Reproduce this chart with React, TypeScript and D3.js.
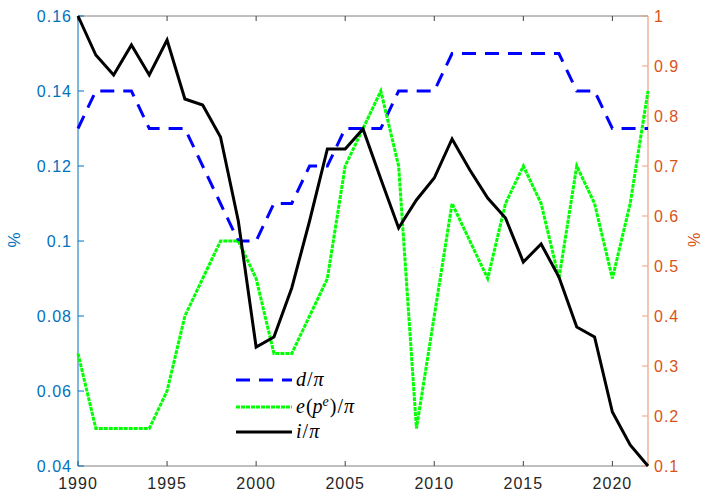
import React from "react";
import * as d3 from "d3";

const years = d3.range(1990, 2023);
const dOverPi = [0.13, 0.14, 0.14, 0.14, 0.13, 0.13, 0.13, 0.12, 0.11, 0.10, 0.10, 0.11, 0.11, 0.12, 0.12, 0.13, 0.13, 0.13, 0.14, 0.14, 0.14, 0.15, 0.15, 0.15, 0.15, 0.15, 0.15, 0.15, 0.14, 0.14, 0.13, 0.13, 0.13];
const eOverPi = [0.07, 0.05, 0.05, 0.05, 0.05, 0.06, 0.08, 0.09, 0.10, 0.10, 0.09, 0.07, 0.07, 0.08, 0.09, 0.12, 0.13, 0.14, 0.12, 0.05, 0.08, 0.11, 0.10, 0.09, 0.11, 0.12, 0.11, 0.09, 0.12, 0.11, 0.09, 0.11, 0.14];
const iOverPi = [1.0, 0.922, 0.882, 0.942, 0.882, 0.952, 0.834, 0.822, 0.758, 0.59, 0.338, 0.358, 0.456, 0.59, 0.734, 0.734, 0.774, 0.674, 0.576, 0.632, 0.676, 0.754, 0.692, 0.636, 0.596, 0.508, 0.544, 0.478, 0.378, 0.358, 0.208, 0.142, 0.1];

const xTicks = [1990, 1995, 2000, 2005, 2010, 2015, 2020];
const leftTicks = [0.04, 0.06, 0.08, 0.1, 0.12, 0.14, 0.16];
const rightTicks = [0.1, 0.2, 0.3, 0.4, 0.5, 0.6, 0.7, 0.8, 0.9, 1];

const W = 704, H = 492;
const L = 78, R = 648, T = 16, B = 466;
const BLUE_AX = "#0072BD";
const ORANGE_AX = "#D95319";
const FONT = "'Liberation Sans', Arial, sans-serif";
const MATH = "'Liberation Serif', 'Times New Roman', serif";

export default function App() {
  const x = d3.scaleLinear().domain([1990, 2022]).range([L, R]);
  const yL = d3.scaleLinear().domain([0.04, 0.16]).range([B, T]);
  const yR = d3.scaleLinear().domain([0.1, 1]).range([B, T]);

  const lineL = d3.line<number>().x((_, i) => x(years[i])).y((v) => yL(v));
  const lineR = d3.line<number>().x((_, i) => x(years[i])).y((v) => yR(v));

  const tickLen = 5;
  const fmt = (v: number) => String(+v.toFixed(2));

  const legendRows = [
    { y: 380, color: "#0000FF", dash: "14 9", kind: "d" },
    { y: 407, color: "#00FF00", dash: "4 1", kind: "e" },
    { y: 432, color: "#000000", dash: undefined, kind: "i" },
  ];

  return (
    <svg
      width={W}
      height={H}
      style={{ position: "absolute", left: 0, top: 0, background: "#fff" }}
      fontFamily={FONT}
    >
      <rect x={0} y={0} width={W} height={H} fill="#fff" />
      {/* box lines */}
      <line x1={L} x2={R} y1={T} y2={T} stroke="#808080" strokeWidth={1} />
      <line x1={L} x2={R} y1={B} y2={B} stroke="#808080" strokeWidth={1} />
      {/* x ticks */}
      {xTicks.map((t) => (
        <g key={t}>
          <line x1={x(t)} x2={x(t)} y1={B} y2={B - tickLen} stroke="#404040" />
          <line x1={x(t)} x2={x(t)} y1={T} y2={T + tickLen} stroke="#404040" />
          <text x={x(t)} y={489} textAnchor="middle" fontSize={16} letterSpacing={1} fill="#262626">
            {t}
          </text>
        </g>
      ))}
      {/* left axis */}
      <line x1={L} x2={L} y1={T} y2={B} stroke={BLUE_AX} strokeWidth={1} />
      {leftTicks.map((t) => (
        <g key={t}>
          <line x1={L} x2={L + tickLen + 1} y1={yL(t)} y2={yL(t)} stroke={BLUE_AX} />
          <text x={72} y={yL(t) + 6} textAnchor="end" fontSize={16} letterSpacing={1} fill={BLUE_AX}>
            {fmt(t)}
          </text>
        </g>
      ))}
      <text
        transform={`translate(${20},${240}) rotate(-90)`}
        textAnchor="middle"
        fontSize={17}
        fill={BLUE_AX}
      >
        %
      </text>
      {/* right axis */}
      <line x1={R} x2={R} y1={T} y2={B} stroke="#EBA080" strokeWidth={1.2} />
      {rightTicks.map((t) => (
        <g key={t}>
          <line x1={R} x2={R - tickLen - 1} y1={yR(t)} y2={yR(t)} stroke="#EBA080" />
          <text x={654} y={yR(t) + 6} textAnchor="start" fontSize={16} letterSpacing={1} fill={ORANGE_AX}>
            {fmt(t)}
          </text>
        </g>
      ))}
      <text
        transform={`translate(${700},${240}) rotate(-90)`}
        textAnchor="middle"
        fontSize={16}
        fill={ORANGE_AX}
      >
        %
      </text>

      {/* series */}
      <path d={lineL(dOverPi) || ""} fill="none" stroke="#0000FF" strokeWidth={3} strokeDasharray="14 9" />
      <path d={lineL(eOverPi) || ""} fill="none" stroke="#00FF00" strokeWidth={3} strokeDasharray="4 1" />
      <path d={lineR(iOverPi) || ""} fill="none" stroke="#000000" strokeWidth={3} />

      {/* legend */}
      {legendRows.map((r) => (
        <g key={r.kind}>
          <line x1={236} x2={292} y1={r.y} y2={r.y} stroke={r.color} strokeWidth={3} strokeDasharray={r.dash} />
          <text x={296} y={r.y + 6} fontFamily={MATH} fontSize={20} fill="#000">
            {r.kind === "d" && (
              <>
                <tspan fontStyle="italic">d</tspan>
                <tspan dx={1}>/</tspan>
                <tspan fontStyle="italic" dx={1}>π</tspan>
              </>
            )}
            {r.kind === "e" && (
              <>
                <tspan fontStyle="italic">e</tspan>
                <tspan dx={1}>(</tspan>
                <tspan fontStyle="italic">p</tspan>
                <tspan fontStyle="italic" fontSize={14} dy={-7}>e</tspan>
                <tspan dy={7} dx={1}>)</tspan>
                <tspan dx={1}>/</tspan>
                <tspan fontStyle="italic" dx={1}>π</tspan>
              </>
            )}
            {r.kind === "i" && (
              <>
                <tspan fontStyle="italic">i</tspan>
                <tspan dx={1}>/</tspan>
                <tspan fontStyle="italic" dx={1}>π</tspan>
              </>
            )}
          </text>
        </g>
      ))}
    </svg>
  );
}
